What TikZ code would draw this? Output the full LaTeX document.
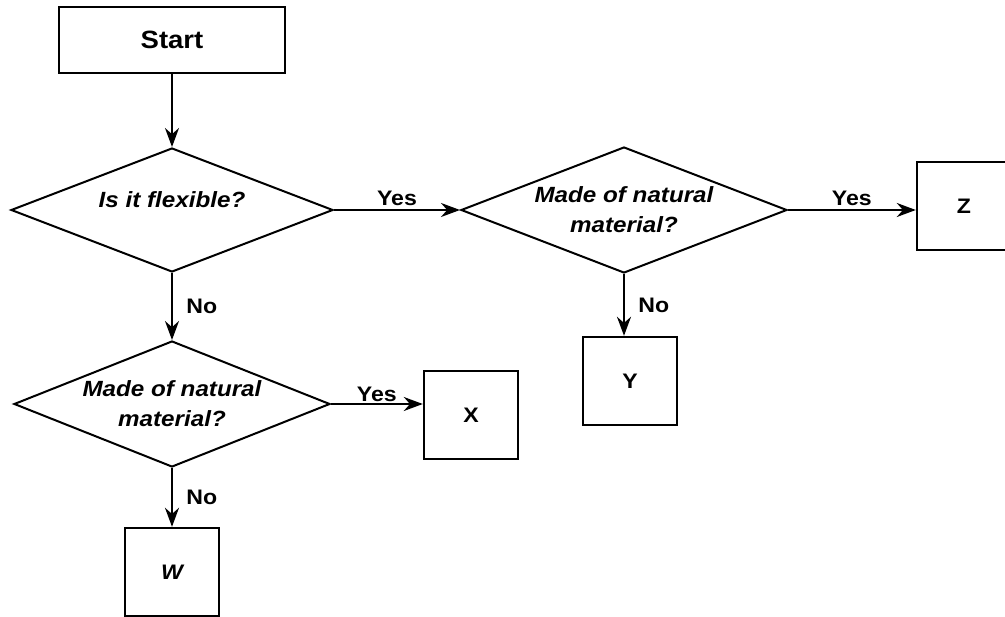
\documentclass[tikz,border=0pt]{standalone}
\usepackage{fontspec}
\setmainfont{Liberation Sans}[FakeStretch=1.1]
\usetikzlibrary{shapes.geometric,arrows.meta}

\tikzset{
  box/.style={draw, line width=2.4pt, inner sep=0pt, minimum width=94pt, minimum height=88pt,
    font=\fontsize{21}{24}\selectfont\bfseries},
  question/.style={draw, diamond, aspect=2.55, line width=2pt, inner sep=0pt, align=center,
    font=\fontsize{22}{30}\selectfont\bfseries\itshape},
  flow/.style={-{Stealth[length=19pt,width=14pt]}, line width=2.2pt},
  answer/.style={font=\fontsize{21}{24}\selectfont\bfseries}
}

\begin{document}
\begin{tikzpicture}[x=1pt,y=-1pt]
  \useasboundingbox (0,0) rectangle (1005,617);
  \node[box, minimum width=226pt, minimum height=66pt, font=\fontsize{25}{30}\selectfont\bfseries]
    (start) at (172,40) {Start};
  \node[question, minimum width=322pt, minimum height=124pt] (flex) at (172,210) {\raisebox{20pt}{Is it flexible?}};
  \node[question, minimum width=326pt, minimum height=126pt] (natA) at (624,210) {Made of natural\\material?};
  \node[question, minimum width=316pt, minimum height=126pt] (natB) at (172,404) {Made of natural\\material?};
  \node[box] (z) at (964,206) {Z};
  \node[box] (y) at (630,381) {Y};
  \node[box] (x) at (471,415) {X};
  \node[box] (w) at (172,572) {\itshape W};

  \draw[flow] (start) -- (flex);
  \draw[flow] (flex.east) -- node[answer, above] {Yes} (natA.west);
  \draw[flow] (natA.east) -- node[answer, above] {Yes} (natA.east -| z.west);
  \draw[flow] (natA.south) -- node[answer, right=10pt] {No} (natA.south |- y.north);
  \draw[flow] (flex.south) -- node[answer, right=10pt] {No} (natB.north);
  \draw[flow] (natB.east) -- node[answer, above=-2pt] {Yes} (natB.east -| x.west);
  \draw[flow] (natB.south) -- node[answer, right=10pt] {No} (natB.south |- w.north);
\end{tikzpicture}
\end{document}
